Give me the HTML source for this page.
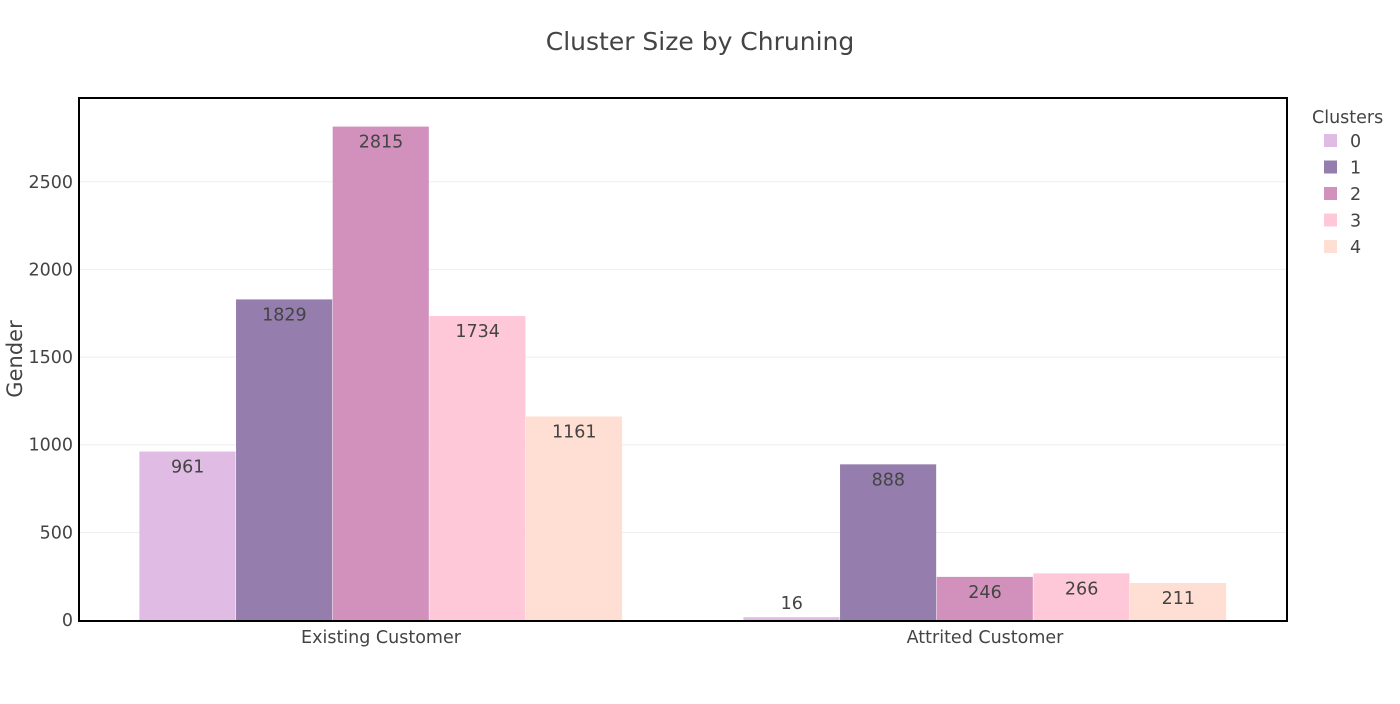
<!DOCTYPE html>
<html><head><meta charset="utf-8"><style>
body{margin:0;background:#fff;font-family:"DejaVu Sans",sans-serif;}
svg text{font-family:"DejaVu Sans",sans-serif;fill:#444;}
</style></head><body>
<svg id="chart" width="1400" height="700">
<text x="700" y="50" text-anchor="middle" font-size="25">Cluster Size by Chruning</text>
<text transform="translate(22,359) rotate(-90)" text-anchor="middle" font-size="21">Gender</text>
<g id="grid"></g><g id="bars"></g><g id="labels"></g>
<rect x="79" y="98" width="1208" height="523" fill="none" stroke="#000" stroke-width="2"/>
<g id="legend">
<text x="1312" y="123" font-size="17.5">Clusters</text>
</g>
</svg>
<script>
const categories=["Existing Customer","Attrited Customer"];
const clusters=["0","1","2","3","4"];
const s0=[961,16];
const s1=[1829,888];
const s2=[2815,246];
const s3=[1734,266];
const s4=[1161,211];
const yTicks=[0,500,1000,1500,2000,2500];
const series=[s0,s1,s2,s3,s4];
const colors=["#e0bbe4","#957dad","#d291bc","#fec8d8","#ffdfd3"];
const NS="http://www.w3.org/2000/svg";
const X0=79,X1=1287,Y0=620,YMAX=2978,PH=522;
const y=v=>Y0-v/YMAX*PH;
const band=(X1-X0)/categories.length;
function mk(t,a,p){const e=document.createElementNS(NS,t);for(const k in a)e.setAttribute(k,a[k]);p.appendChild(e);return e;}
const grid=document.getElementById('grid');
yTicks.forEach(t=>{
 if(t>0){const l=mk('line',{x1:X0,x2:X1,y1:y(t),y2:y(t),stroke:'#eee','stroke-width':1},grid);
 
 }
 const tx=mk('text',{x:73,y:y(t)+6,'text-anchor':'end','font-size':17.5},grid);tx.textContent=t;
 
 
});
categories.forEach((c,i)=>{
 const tx=mk('text',{x:X0+band*(i+0.5),y:643,'text-anchor':'middle','font-size':17.5},grid);tx.textContent=c;
 
 
});
const bars=document.getElementById('bars'),labels=document.getElementById('labels');
const bw=band*0.8/series.length;
series.forEach((s,j)=>{
 s.forEach((v,i)=>{
  const x=X0+band*i+band*0.1+bw*j;
  const r=mk('rect',{x:x,y:y(v),width:bw-0.5,height:Y0-y(v),fill:colors[j]},bars);
  
  
  const inside=(Y0-y(v))>30;
  const t=mk('text',{x:x+bw/2,y:inside?y(v)+21:y(v)-8,'text-anchor':'middle','font-size':17.5},labels);
  t.textContent=v;
  
  
 });
});
const lg=document.getElementById('legend');
clusters.forEach((c,j)=>{
 const yy=141+j*26.5;
 const r=mk('rect',{x:1324,y:yy-7,width:13,height:13,fill:colors[j]},lg);
 
 
 const t=mk('text',{x:1350,y:yy+6,'font-size':17.5},lg);t.textContent=c;
 
 
});
</script>
</body></html>
